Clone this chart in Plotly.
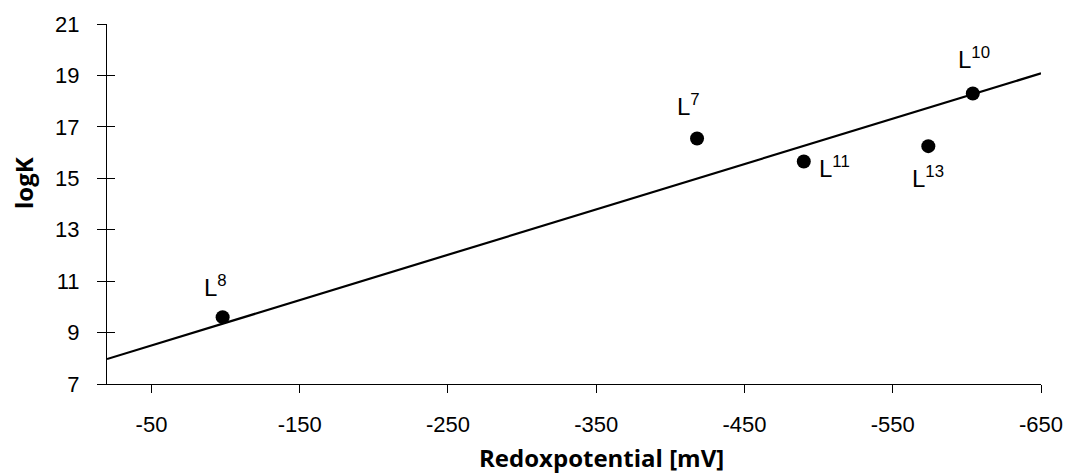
import plotly.graph_objects as go

# Data
ligands = ["L8", "L7", "L11", "L13", "L10"]
label_text = ["L<sup>8</sup>", "L<sup>7</sup>", "L<sup>11</sup>", "L<sup>13</sup>", "L<sup>10</sup>"]
redox_mv = [-98, -418, -490, -574, -604]
logk = [9.6, 16.55, 15.65, 16.25, 18.3]
trend_x = [-20, -650]
trend_y = [7.97, 19.08]
x_ticks = [-50, -150, -250, -350, -450, -550, -650]
x_tick_text = ["-50", "-150", "-250", "-350", "-450", "-550", "-650"]
y_ticks = [7, 9, 11, 13, 15, 17, 19, 21]

# label offsets in pixels (dx right, dy down) from the point
label_offsets = [(-7, -31), (-9, -33), (31, 5), (0, 31), (1, -35)]

# page body has an 8px margin; plot area target in page px: x 107..1041, y 24..384
W, H = 1067, 467
L_M, T_M = 99, 16
PW, PH = 934, 360

fig = go.Figure()
fig.add_trace(go.Scatter(x=trend_x, y=trend_y, mode="lines",
                         line=dict(color="black", width=2.2), showlegend=False,
                         hoverinfo="skip"))
fig.add_trace(go.Scatter(x=redox_mv, y=logk, mode="markers",
                         marker=dict(color="black", size=14), showlegend=False))
# overlay axis trace for inside ticks
fig.add_trace(go.Scatter(x=trend_x, y=trend_y, mode="markers", yaxis="y2",
                         marker=dict(size=1, color="rgba(0,0,0,0)"),
                         showlegend=False, hoverinfo="skip"))

label_font = dict(family="Liberation Sans", size=24, color="black")
for xv, yv, txt, (dx, dy) in zip(redox_mv, logk, label_text, label_offsets):
    fig.add_annotation(x=xv, y=yv, text=txt, showarrow=False,
                       xshift=dx, yshift=-dy, font=label_font)

font_tick = dict(family="Liberation Sans", size=22, color="black")

fig.update_layout(
    width=W, height=H,
    margin=dict(l=L_M, r=W - L_M - PW, t=T_M, b=H - T_M - PH, autoexpand=False),
    paper_bgcolor="white", plot_bgcolor="white",
    xaxis=dict(range=[-20, -650], tickvals=x_ticks, ticktext=x_tick_text,
               ticks="outside", ticklen=8,
               tickcolor="black", showline=True, linecolor="black", linewidth=1,
               showgrid=False, zeroline=False, tickfont=font_tick,
               ticklabelstandoff=13, automargin=False),
    yaxis=dict(range=[7, 21], tickvals=y_ticks, ticks="outside", ticklen=9,
               tickcolor="black", showline=True, linecolor="black", linewidth=1,
               showgrid=False, zeroline=False, tickfont=font_tick,
               ticklabelstandoff=13, automargin=False),
    yaxis2=dict(range=[7, 21], tickvals=y_ticks, ticks="inside", ticklen=8,
                tickcolor="black", tickwidth=1, overlaying="y", side="left",
                anchor="x", showticklabels=False, showgrid=False, zeroline=False,
                showline=False, automargin=False),
)

title_font = dict(family="Open Sans", size=24, color="black")
fig.add_annotation(text="<b>Redoxpotential [mV]</b>", xref="paper", yref="paper",
                   x=(601 - 107) / PW, y=(384 - 457) / PH,
                   showarrow=False, font=title_font, xanchor="center", yanchor="middle")
fig.add_annotation(text="<b>logK</b>", xref="paper", yref="paper",
                   x=(23 - 107) / PW, y=(384 - 183) / PH, textangle=-90,
                   showarrow=False, font=title_font, xanchor="center", yanchor="middle")

fig.write_html("out.html")
